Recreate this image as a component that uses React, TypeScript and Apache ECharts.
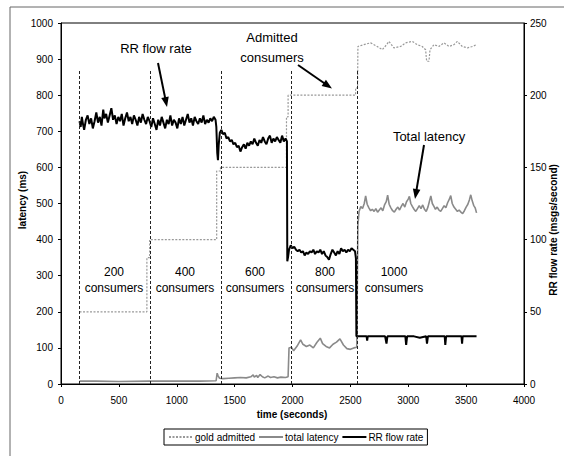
import React, { useEffect, useRef } from "react";
import * as echarts from "echarts";

// ---- data (time in seconds) ----
const xTicks = { min: 0, max: 4000, interval: 500 };
const leftTicks = { min: 0, max: 1000, interval: 100 };
const rightTicks = { min: 0, max: 250, interval: 50 };

const seriesNames = ["gold admitted", "total latency", "RR flow rate"];

// admitted gold consumers (left axis)
const goldAdmitted: [number, number][] = [
  [160, 200], [742, 200], [742, 350], [766, 350], [766, 400], [1345, 400], [1345, 590],
  [1378, 590], [1378, 600], [1948, 600], [1948, 740], [1962, 740], [1962, 800],
  [2545, 800], [2545, 820], [2562, 820], [2565, 935], [2617, 940], [2675, 945],
  [2732, 935], [2776, 926], [2813, 940], [2833, 949], [2876, 931], [2934, 935],
  [2977, 945], [3035, 949], [3078, 940], [3121, 935], [3150, 926], [3159, 894],
  [3179, 894], [3188, 926], [3222, 940], [3265, 935], [3308, 945], [3352, 935],
  [3395, 940], [3424, 949], [3467, 935], [3511, 931], [3554, 935], [3591, 940],
];

// total latency in ms (left axis)
const totalLatency: [number, number][] = [
  [160, 8], [300, 8], [500, 7], [766, 8], [1000, 8], [1200, 8], [1340, 9], [1349, 30],
  [1358, 22], [1370, 16], [1400, 15], [1450, 16], [1500, 17], [1550, 18], [1600, 17],
  [1640, 20], [1660, 25], [1670, 19], [1690, 24], [1700, 18], [1720, 26], [1740, 20],
  [1760, 17], [1790, 22], [1810, 18], [1840, 20], [1870, 17], [1900, 19], [1940, 18],
  [1962, 20], [1970, 100], [1990, 102], [2010, 92], [2040, 105], [2070, 122],
  [2090, 110], [2120, 104], [2150, 108], [2180, 100], [2210, 115], [2240, 127],
  [2260, 112], [2290, 104], [2320, 100], [2350, 110], [2380, 116], [2410, 125],
  [2440, 108], [2470, 98], [2500, 96], [2530, 100], [2555, 102], [2565, 440],
  [2575, 478], [2590, 492], [2605, 486], [2620, 500], [2632, 521], [2645, 498],
  [2660, 488], [2675, 480], [2690, 484], [2705, 478], [2720, 486], [2735, 476],
  [2750, 482], [2765, 488], [2780, 480], [2795, 496], [2810, 505], [2822, 523],
  [2835, 498], [2850, 488], [2865, 480], [2880, 476], [2895, 484], [2910, 490],
  [2925, 482], [2940, 492], [2955, 500], [2970, 490], [2985, 505], [3000, 512],
  [3010, 520], [3022, 500], [3035, 492], [3050, 484], [3065, 478], [3080, 486],
  [3095, 494], [3110, 486], [3125, 496], [3140, 484], [3155, 478], [3170, 490],
  [3182, 505], [3195, 521], [3208, 500], [3222, 492], [3235, 484], [3250, 490],
  [3265, 482], [3280, 478], [3295, 486], [3310, 494], [3325, 488], [3340, 502],
  [3355, 512], [3367, 522], [3380, 500], [3395, 490], [3410, 484], [3425, 478],
  [3440, 482], [3455, 476], [3470, 472], [3485, 480], [3500, 490], [3515, 498],
  [3528, 510], [3540, 524], [3552, 508], [3565, 495], [3578, 488], [3590, 474],
];

// RR flow rate in msgs/second (right axis)
const rrFlowRate: [number, number][] = [
  [160, 182], [170, 178], [180, 185], [190, 180], [200, 176], [215, 183], [230, 186],
  [245, 180], [260, 184], [275, 177], [290, 182], [305, 188], [320, 181], [335, 185],
  [350, 179], [365, 190], [375, 184], [390, 187], [405, 181], [420, 186], [435, 191],
  [450, 183], [465, 186], [480, 180], [495, 185], [510, 182], [525, 187], [540, 179],
  [555, 184], [570, 188], [585, 182], [600, 185], [615, 180], [630, 186], [645, 183],
  [660, 179], [675, 185], [690, 181], [705, 187], [720, 183], [735, 180], [750, 185],
  [765, 182], [780, 178], [795, 184], [810, 180], [825, 176], [840, 183], [855, 179],
  [870, 185], [885, 181], [900, 177], [915, 183], [930, 180], [945, 186], [960, 179],
  [975, 183], [990, 181], [1005, 177], [1020, 184], [1035, 180], [1050, 185],
  [1065, 179], [1080, 183], [1095, 187], [1110, 181], [1125, 184], [1140, 179],
  [1155, 185], [1170, 182], [1185, 180], [1200, 184], [1215, 181], [1230, 186],
  [1245, 180], [1260, 183], [1275, 181], [1290, 184], [1305, 182], [1320, 185],
  [1335, 183], [1342, 178], [1350, 160], [1356, 155], [1362, 165], [1372, 174],
  [1385, 176], [1400, 173], [1415, 174], [1430, 170], [1445, 171], [1460, 168],
  [1475, 169], [1490, 166], [1505, 167], [1520, 164], [1535, 165], [1550, 161],
  [1565, 164], [1580, 166], [1595, 163], [1610, 167], [1625, 165], [1640, 168],
  [1655, 166], [1670, 170], [1685, 167], [1700, 165], [1715, 169], [1730, 167],
  [1745, 171], [1760, 168], [1775, 166], [1790, 170], [1805, 172], [1820, 167],
  [1835, 170], [1850, 168], [1865, 171], [1880, 169], [1895, 167], [1910, 172],
  [1925, 168], [1940, 170], [1952, 168], [1955, 85], [1962, 88], [1970, 93],
  [1985, 96], [2000, 94], [2015, 95], [2030, 93], [2045, 92], [2060, 93], [2075, 91],
  [2090, 92], [2105, 89], [2120, 91], [2135, 90], [2150, 92], [2165, 91], [2180, 93],
  [2195, 90], [2210, 92], [2225, 91], [2240, 93], [2255, 90], [2270, 92], [2285, 89],
  [2300, 88], [2315, 86], [2330, 90], [2345, 93], [2360, 91], [2375, 89], [2390, 92],
  [2405, 90], [2420, 94], [2435, 92], [2450, 93], [2465, 91], [2480, 93], [2495, 92],
  [2510, 94], [2525, 93], [2540, 92], [2548, 87], [2552, 33], [2600, 33], [2640, 33],
  [2645, 30], [2650, 33], [2700, 33], [2750, 33], [2800, 33], [2812, 28], [2820, 33],
  [2900, 33], [2975, 33], [2982, 27], [2990, 33], [3050, 33], [3100, 32], [3155, 33],
  [3162, 28], [3170, 33], [3250, 33], [3315, 33], [3320, 27], [3327, 33], [3400, 33],
  [3460, 33], [3465, 28], [3470, 33], [3530, 33], [3590, 33],
];

// phase boundaries (vertical dashed lines)
const phaseTimes = [160, 770, 1383, 1989, 2559];
const phaseTop = 870;

const SANS = "'Liberation Sans', Arial, sans-serif";

function arrow(x1: number, y1: number, x2: number, y2: number) {
  const dx = x2 - x1, dy = y2 - y1;
  const L = Math.hypot(dx, dy);
  const ux = dx / L, uy = dy / L;
  const hl = 10, hw = 3.8;
  const bx = x2 - ux * hl, by = y2 - uy * hl;
  return [
    { type: "line", z: 100, shape: { x1, y1, x2: bx + ux * 2, y2: by + uy * 2 }, style: { stroke: "#000", lineWidth: 2 } },
    {
      type: "polygon", z: 100,
      shape: { points: [[x2, y2], [bx - uy * hw, by + ux * hw], [bx + uy * hw, by - ux * hw]] },
      style: { fill: "#000" },
    },
  ];
}

function label(text: string, x: number, y: number, size: number, weight = "normal") {
  return {
    type: "text", x, y, z: 100,
    style: { text, fontSize: size, fontFamily: SANS, fontWeight: weight, fill: "#000", align: "center", verticalAlign: "middle" },
  };
}

export default function App() {
  const ref = useRef<HTMLDivElement>(null);
  useEffect(() => {
    document.body.style.margin = "0";
    if (!ref.current) return;
    const chart = echarts.init(ref.current, undefined, { renderer: "svg" });
    const axisLabel = { color: "#000", fontSize: 10, fontFamily: SANS, formatter: (v: number) => String(v) };
    const option: any = {
      animation: false,
      backgroundColor: "#fff",
      textStyle: { fontFamily: SANS },
      grid: { left: 61, right: 40, top: 23, bottom: 72, show: true, borderColor: "#000", borderWidth: 1, backgroundColor: "transparent" },
      xAxis: {
        type: "value", ...xTicks,
        axisLine: { show: true, onZero: false, lineStyle: { color: "#000" } },
        axisTick: { show: true, length: 3, lineStyle: { color: "#000" } },
        axisLabel: { ...axisLabel, margin: 11 },
        splitLine: { show: false },
      },
      yAxis: [
        {
          type: "value", ...leftTicks, position: "left",
          axisLine: { show: true, lineStyle: { color: "#000" } },
          axisTick: { show: true, length: 3, lineStyle: { color: "#000" } },
          axisLabel: { ...axisLabel, margin: 8 },
          splitLine: { show: false },
        },
        {
          type: "value", ...rightTicks, position: "right",
          axisLine: { show: true, lineStyle: { color: "#000" } },
          axisTick: { show: true, length: 3, lineStyle: { color: "#000" } },
          axisLabel: { ...axisLabel, margin: 6 },
          splitLine: { show: false },
        },
      ],
      legend: {
        data: seriesNames,
        left: 164, top: 429,
        orient: "horizontal",
        itemWidth: 24, itemHeight: 8, itemGap: 3,
        padding: [3, 4, 3, 4],
        borderColor: "#000", borderWidth: 1,
        itemStyle: { opacity: 0 },
        textStyle: { color: "#000", fontSize: 10, fontFamily: SANS, padding: [0, 0, 0, -3] },
      },
      series: [
        {
          name: seriesNames[0], type: "line", yAxisIndex: 0, data: goldAdmitted,
          symbol: "none", showSymbol: false,
          lineStyle: { color: "#999", width: 1.2, type: [2, 1.5] },
          itemStyle: { color: "#999" },
          markLine: {
            symbol: "none", silent: true, label: { show: false },
            lineStyle: { color: "#222", width: 1, type: [3, 2] },
            data: phaseTimes.map((t) => [{ coord: [t, 0] }, { coord: [t, phaseTop] }]),
          },
        },
        {
          name: seriesNames[1], type: "line", yAxisIndex: 0, data: totalLatency,
          symbol: "none", showSymbol: false,
          lineStyle: { color: "#8a8a8a", width: 1.6 },
          itemStyle: { color: "#8a8a8a" },
        },
        {
          name: seriesNames[2], type: "line", yAxisIndex: 1, data: rrFlowRate,
          symbol: "none", showSymbol: false,
          lineStyle: { color: "#000", width: 2 },
          itemStyle: { color: "#000" },
        },
      ],
      graphic: [
        { type: "rect", z: -10, shape: { x: 10, y: 7, width: 600, height: 500 }, style: { fill: "none", stroke: "#666", lineWidth: 1 } },
        { type: "text", x: 22, y: 200, rotation: Math.PI / 2, z: 100, style: { text: "latency (ms)", fontSize: 10, fontWeight: "bold", fontFamily: SANS, fill: "#000", align: "center", verticalAlign: "middle" } },
        { type: "text", x: 553, y: 230, rotation: Math.PI / 2, z: 100, style: { text: "RR flow rate (msgs/second)", fontSize: 10, fontWeight: "bold", fontFamily: SANS, fill: "#000", align: "center", verticalAlign: "middle" } },
        { type: "text", x: 292, y: 414, z: 100, style: { text: "time (seconds)", fontSize: 10, fontWeight: "bold", fontFamily: SANS, fill: "#000", align: "center", verticalAlign: "middle" } },
        label("RR flow rate", 156, 48, 13),
        label("Admitted", 272, 37, 13),
        label("consumers", 272, 57, 13),
        label("Total latency", 429, 136, 13),
        label("200", 114, 272, 12), label("consumers", 114, 288, 12),
        label("400", 185, 272, 12), label("consumers", 185, 288, 12),
        label("600", 255, 272, 12), label("consumers", 255, 288, 12),
        label("800", 325, 272, 12), label("consumers", 325, 288, 12),
        label("1000", 394, 272, 12), label("consumers", 394, 288, 12),
        ...arrow(158, 63, 167, 107),
        ...arrow(298, 65, 332, 88.5),
        ...arrow(424, 145, 415, 199),
      ],
    };
    chart.setOption(option);
    return () => chart.dispose();
  }, []);
  return <div ref={ref} style={{ width: 564, height: 456 }} />;
}
